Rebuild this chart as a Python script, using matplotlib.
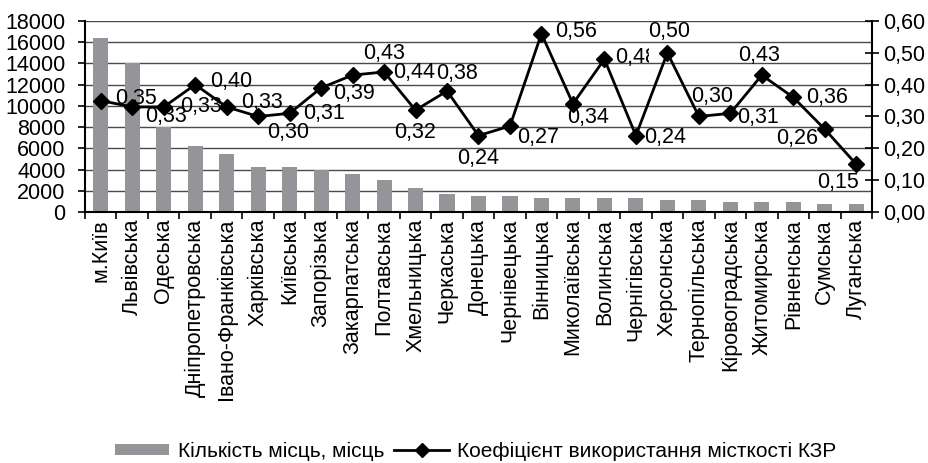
import matplotlib
matplotlib.use('Agg')
import matplotlib.pyplot as plt
from matplotlib import font_manager as fm
from matplotlib.patches import Patch
from matplotlib.lines import Line2D
from matplotlib.transforms import Bbox, TransformedBbox

regions = ["м.Київ", "Львівська", "Одеська", "Дніпропетровська", "Івано-Франківська",
           "Харківська", "Київська", "Запорізька", "Закарпатська", "Полтавська",
           "Хмельницька", "Черкаська", "Донецька", "Чернівецька", "Вінницька",
           "Миколаївська", "Волинська", "Чернігівська", "Херсонська", "Тернопільська",
           "Кіровоградська", "Житомирська", "Рівненська", "Сумська", "Луганська"]
places = [16400, 14000, 8000, 6250, 5500, 4200, 4200, 4000, 3600, 3000,
          2250, 1700, 1500, 1500, 1300, 1300, 1300, 1300, 1100, 1100,
          950, 950, 950, 750, 750]
coef = [0.35, 0.33, 0.33, 0.40, 0.33, 0.30, 0.31, 0.39, 0.43, 0.44,
        0.32, 0.38, 0.24, 0.27, 0.56, 0.34, 0.48, 0.24, 0.50, 0.30,
        0.31, 0.43, 0.36, 0.26, 0.15]
left_ticks = list(range(0, 18001, 2000))
right_ticks = [0.0, 0.1, 0.2, 0.3, 0.4, 0.5, 0.6]
legend_bar = "Кількість місць, місць"
legend_line = "Коефіцієнт використання місткості КЗР"

# label offsets in pixels (styling)
offsets = [(35, 2), (34, -10), (37, 0), (36, 3), (35, 4), (30, -16), (34, 0), (33, -6),
           (31, 22), (30, -1), (0, -22), (10, 18), (0, -23), (28, -11), (35, 2), (15, -14),
           (32, 2), (29, -2), (2, 21), (13, 20), (28, -4), (-3, 20), (34, 0), (-28, -9),
           (-18, -18)]

avail = {f.name for f in fm.fontManager.ttflist}
fam = 'Liberation Sans Narrow' if 'Liberation Sans Narrow' in avail else 'Liberation Sans'
plt.rcParams['font.family'] = [fam, 'DejaVu Sans']
FS = 15.5

fig = plt.figure(figsize=(9.29, 4.63), dpi=100)
ax = fig.add_axes([85/929, 1-212/463, (872-85)/929, (212-21)/463])
x = list(range(len(regions)))
ax.bar(x, places, width=0.48, color='#939598', zorder=2)
ax.set_xlim(-0.5, len(regions)-0.5)
ax.set_ylim(0, 18000)
ax.set_yticks(left_ticks)
ax.set_yticklabels([str(v) for v in left_ticks])
ax.set_axisbelow(True)
ax.yaxis.grid(True, color='#4a4a4a', linewidth=1.0)
ax.set_xticks(x)
ax.set_xticklabels(regions, rotation=90, ha='center', va='top', fontsize=FS)
ax.set_xticks([i - 0.5 for i in range(len(regions)+1)], minor=True)
ax.tick_params(axis='x', which='major', length=0, pad=5)
ax.tick_params(axis='x', which='minor', length=5, width=1.2, color='black')
ax.tick_params(axis='y', length=5, width=1.2, labelsize=FS, pad=9)
for s in ['top', 'right']:
    ax.spines[s].set_visible(False)
for s in ['left', 'bottom']:
    ax.spines[s].set_linewidth(1.5)

ax2 = ax.twinx()
ax2.plot(x, coef, color='black', linewidth=2, marker='D', markersize=8.5, zorder=3)
ax2.set_ylim(0, 0.6)
ax2.set_yticks(right_ticks)
ax2.set_yticklabels([f"{v:.2f}".replace('.', ',') for v in right_ticks])
ax2.tick_params(axis='y', direction='inout', length=10, width=1.2, labelsize=FS, pad=3)
for s in ['top', 'left', 'bottom']:
    ax2.spines[s].set_visible(False)
ax2.spines['right'].set_linewidth(1.5)

for i, (v, off) in enumerate(zip(coef, offsets)):
    t = ax2.annotate(f"{v:.2f}".replace('.', ','), (i, v), xytext=off,
                     textcoords='offset pixels', ha='center', va='center', fontsize=FS,
                     annotation_clip=False)
    if i == 16:
        t.set_clip_on(True)
        t.set_clip_box(TransformedBbox(Bbox([[15.0, 0.0], [17.42, 0.6]]), ax2.transData))

handles = [Patch(facecolor='#939598', edgecolor='none'),
           Line2D([0], [0], color='black', linewidth=2, marker='D', markersize=7)]
fig.legend(handles, [legend_bar, legend_line], loc='center', ncol=2,
           bbox_to_anchor=(0.512, 1-451/463), frameon=False, fontsize=15,
           handlelength=2.6, handleheight=0.45, handletextpad=0.4, columnspacing=0.5)

fig.savefig('out.png', dpi=100)
